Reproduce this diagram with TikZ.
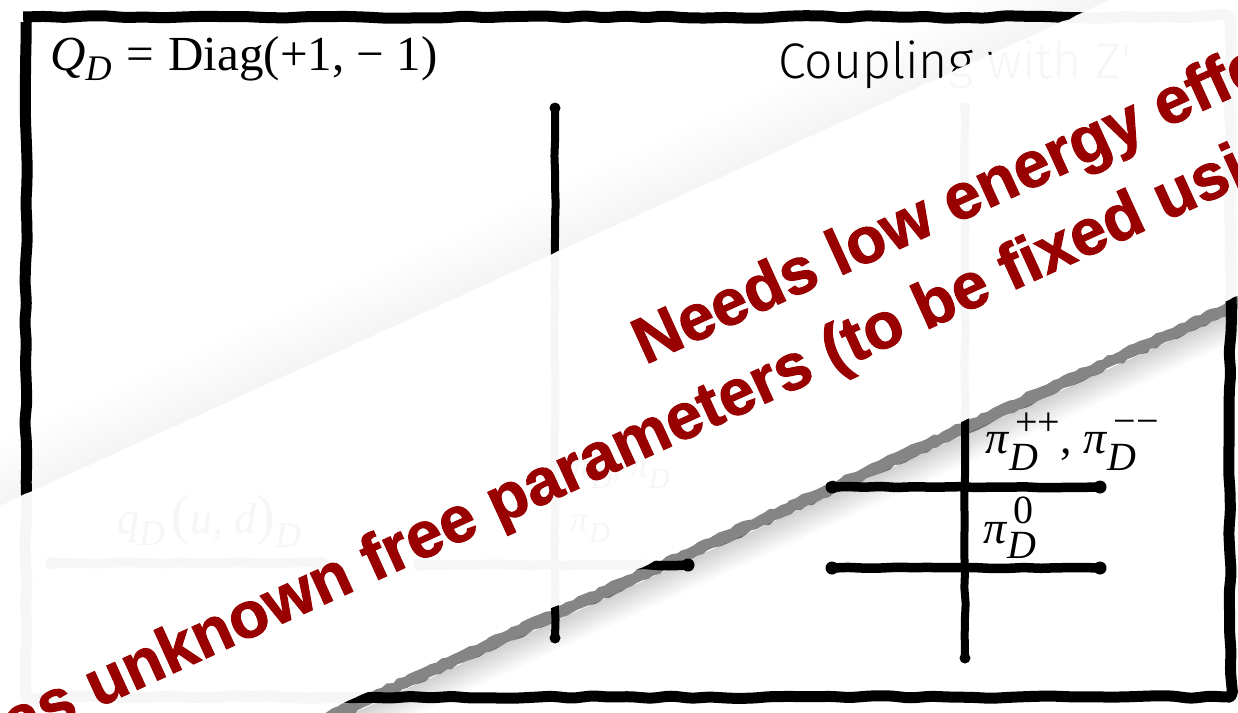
\documentclass[tikz,border=0pt]{standalone}
\usepackage{fontspec}
\setmainfont{Liberation Serif}
\newfontfamily\bannerfont{Liberation Sans}[BoldFeatures={FakeBold=1.5}]
\newfontfamily\cplfont{Fira Sans Light}
\usetikzlibrary{decorations.pathmorphing}
\definecolor{banred}{RGB}{153,0,0}
% #1 script size, #2 sub drop, #3 sup raise, #4 sub, #5 sup
\newcommand{\sbsp}[5]{{\setbox0=\hbox{\fontsize{#1}{#1}\selectfont\itshape #4}\setbox2=\hbox{\fontsize{#1}{#1}\selectfont\hspace{6pt}#5}\ifdim\wd0>\wd2 \wd2=\wd0\fi\rlap{\raisebox{-#2}{\box0}}\raisebox{#3}{\box2}}}
\tikzset{
  ink/.style={line width=8pt, line cap=round, decorate,
    decoration={random steps, segment length=16pt, amplitude=0.7pt}},
  inkh/.style={ink, line width=9.5pt},
  frameink/.style={line width=11pt, line join=round, rounded corners=5pt, decorate,
    decoration={random steps, segment length=20pt, amplitude=1.4pt}},
  blob/.style={fill=black},
  lbl/.style={anchor=base west, inner sep=0pt},
  banner/.style={anchor=base west, inner sep=0pt, rotate=24.5, text=banred,
    font=\bannerfont\bfseries\fontsize{65}{65}\selectfont}
}
\begin{document}
\begin{tikzpicture}[x=1pt,y=-1pt]
\pgfmathsetseed{11}
\useasboundingbox (0,0) rectangle (1238,712);
\clip (0,0) rectangle (1238,712);
\fill[white] (0,0) rectangle (1238,712);

% frame
\draw[frameink] (26,17) rectangle (1230,697);

% coordinates of the level diagram
\coordinate (v1t) at (555,108);
\coordinate (v1b) at (555,638);
\coordinate (v2t) at (965,108);
\coordinate (v2b) at (965,658);
\coordinate (hla) at (52,563);
\coordinate (hlb) at (322,563);
\coordinate (hma) at (420,565);
\coordinate (hmb) at (688,565);
\coordinate (hr1a) at (832,487);
\coordinate (hr1b) at (1100,487);
\coordinate (hr2a) at (832,568);
\coordinate (hr2b) at (1100,568);

\draw[ink] (v1t) -- (v1b);
\draw[ink] (v2t) -- (v2b);
\draw[inkh] (hla) -- (hlb);
\draw[inkh] (hma) -- (hmb);
\draw[inkh] (hr1a) -- (hr1b);
\draw[inkh] (hr2a) -- (hr2b);
\foreach \p in {v1t,v1b,v2t,v2b}
  \fill[blob] (\p) circle (5.5);
\foreach \p in {hla,hlb,hma,hmb,hr1a,hr1b,hr2a,hr2b}
  \fill[blob] (\p) circle (6.5);

% texts
\node[lbl] (qd) at (50,70) {\fontsize{49}{49}\selectfont\textit{Q}\sbsp{36}{10pt}{0pt}{D}{}\hspace{0.3em}=\hspace{0.3em}Diag(+1,\hspace{0.25em}−\hspace{0.25em}1)};
\node[lbl] (cpl) at (778,78) {\cplfont\fontsize{50}{50}\selectfont Coupling with Z'};

\node[lbl] (lq) at (117,533) {\fontsize{44}{44}\selectfont\textit{q}\sbsp{36}{12pt}{0pt}{D}{}\hspace{0.15em}{\fontsize{56}{56}\selectfont(}\textit{u}, \textit{d}{\fontsize{56}{56}\selectfont)}\sbsp{36}{14pt}{0pt}{D}{}};
\node[lbl] (lm1) at (572,477) {\fontsize{36}{36}\selectfont\textit{π}\sbsp{29}{11pt}{0pt}{D}{}, \textit{π}\sbsp{29}{11pt}{0pt}{D}{}};
\node[lbl] (lm2) at (570,531) {\fontsize{36}{36}\selectfont\textit{π}\sbsp{29}{11pt}{0pt}{D}{}};

\node[lbl] (lpp) at (985,453) {\fontsize{46}{46}\selectfont\textit{π}\sbsp{40}{17pt}{18pt}{D}{++}, \textit{π}\sbsp{40}{17pt}{19pt}{D}{−−}};
\node[lbl] (lp0) at (983,543) {\fontsize{46}{46}\selectfont\textit{π}\sbsp{40}{15pt}{20pt}{D}{0}};

% the paper strip laid over the slide
\begin{scope}[shift={(0,506)}, rotate=24.5]
  % soft shadow above the upper edge
  \foreach \i in {1,...,10}
    \fill[black, opacity=0.0045] (-400,0) rectangle (1700,{-6*\i});
  % the strip
  \fill[white, opacity=0.965, decorate,
        decoration={random steps, segment length=7pt, amplitude=0.8pt}]
        (-400,0) rectangle (1700,322);
  % hard shadow below the lower edge
  \fill[black, opacity=0.48, decorate,
        decoration={random steps, segment length=6pt, amplitude=1.4pt}]
        (-400,323) rectangle (1700,335);
  \foreach \i in {1,...,9}
    \fill[black, opacity=0.02] (-400,335) rectangle (1700,{335+3*\i});
\end{scope}

% banner text
\node[banner] (t1) at (645,365) {Needs low energy effective theory};
\node[banner] (t2) at (-28,765) {Has unknown free parameters (to be fixed using};
\end{tikzpicture}
\end{document}
